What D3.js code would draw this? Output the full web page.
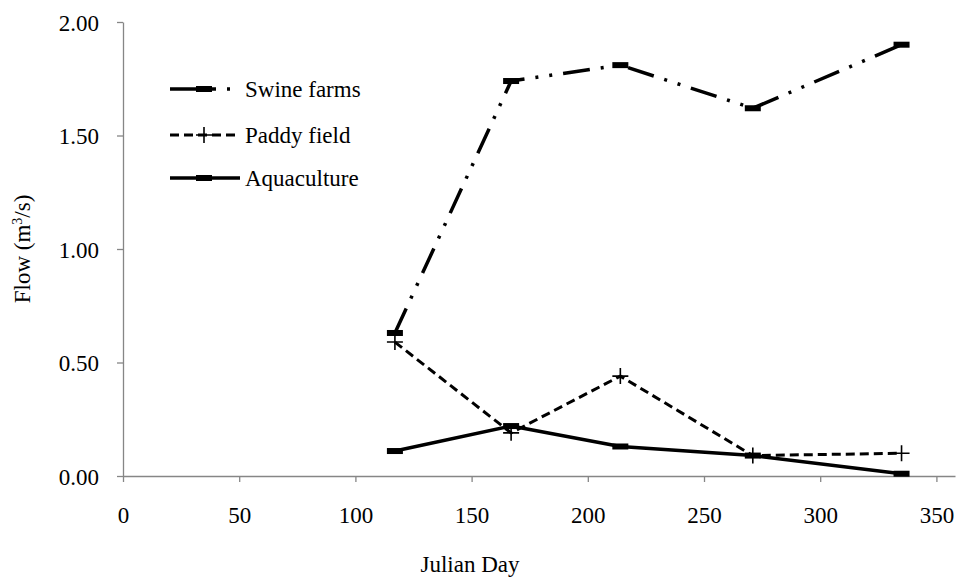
<!DOCTYPE html>
<html>
<head>
<meta charset="utf-8">
<script src="https://cdn.jsdelivr.net/npm/d3@7"></script>
<style>
  body { margin: 0; background: #fff; }
</style>
</head>
<body>
<div id="chart"></div>
<script>
// Flow by Julian day, three sources

const days = [117, 167, 214, 271, 335];
const swineFarms = [0.63, 1.74, 1.81, 1.62, 1.90];
const paddyField = [0.59, 0.19, 0.44, 0.09, 0.10];
const aquaculture = [0.11, 0.22, 0.13, 0.09, 0.01];
const xTicks = [0, 50, 100, 150, 200, 250, 300, 350];
const yTicks = [0, 0.5, 1, 1.5, 2];

const W = 958, H = 577;
const margin = { top: 22, right: 3, bottom: 101, left: 123 };
const width = W - margin.left - margin.right;
const height = H - margin.top - margin.bottom;
const FONT = "'Liberation Serif', 'DejaVu Serif', serif";
const FS = '23px';

const svg = d3.select('#chart')
    .append('svg')
    .attr('width', W)
    .attr('height', H)
    .style('font-family', FONT);

const g = svg.append('g')
    .attr('transform', `translate(${margin.left}, ${margin.top})`);

// Scales: 350 lands at ~935px, axis runs a bit past it
const xScale = d3.scaleLinear().domain([0, 358]).range([0, width]);
const yScale = d3.scaleLinear().domain([0, 2]).range([height, 0]);

const axisColor = '#868686';

// Axes
const xAxis = g.append('g')
    .attr('transform', `translate(0, ${height})`)
    .call(d3.axisBottom(xScale).tickValues(xTicks).tickSizeInner(6).tickSizeOuter(0).tickFormat(d3.format('d')));
xAxis.attr('font-family', FONT).attr('font-size', FS);
xAxis.selectAll('text').attr('dy', 0).attr('y', 47).attr('fill', '#000');

const yAxis = g.append('g')
    .call(d3.axisLeft(yScale).tickValues(yTicks).tickSizeInner(6).tickSizeOuter(0).tickFormat(d3.format('.2f')));
yAxis.attr('font-family', FONT).attr('font-size', FS);
yAxis.selectAll('text').attr('x', -24).attr('dy', '0.35em').attr('fill', '#000');

[xAxis, yAxis].forEach(a => {
    a.select('.domain').attr('stroke', axisColor).attr('stroke-width', 1.3);
    a.selectAll('.tick line').attr('stroke', axisColor).attr('stroke-width', 1.3);
});

// Axis titles
svg.append('text')
    .attr('x', 470)
    .attr('y', 572)
    .attr('text-anchor', 'middle')
    .attr('font-family', FONT).attr('font-size', FS)
    .text('Julian Day');

const yTitle = svg.append('text')
    .attr('transform', 'translate(30, 249) rotate(-90)')
    .attr('text-anchor', 'middle')
    .attr('font-family', FONT).attr('font-size', FS);
yTitle.append('tspan').text('Flow (m');
yTitle.append('tspan').attr('dy', -8).attr('font-size', '14px').text('3');
yTitle.append('tspan').attr('dy', 8).text('/s)');

// Series definitions
const series = [
    { name: 'Swine farms', values: swineFarms, dash: '27 11 3 11 3 11', width: 3.5, marker: 'bar' },
    { name: 'Paddy field', values: paddyField, dash: '9 5', width: 3, marker: 'plus' },
    { name: 'Aquaculture', values: aquaculture, dash: null, width: 3.5, marker: 'bar' }
];

const line = d3.line()
    .x(d => xScale(d[0]))
    .y(d => yScale(d[1]));

function drawMarker(sel, type, x, y) {
    if (type === 'bar') {
        sel.append('rect')
            .attr('x', x - 8)
            .attr('y', y - 3)
            .attr('width', 16)
            .attr('height', 6)
            .attr('fill', '#000');
    } else {
        sel.append('path')
            .attr('d', `M${x - 8},${y}H${x + 8}M${x},${y - 8}V${y + 8}`)
            .attr('stroke', '#000')
            .attr('stroke-width', 1.6)
            .attr('fill', 'none');
    }
}

// Draw lines and markers (aquaculture first so dashed lines sit on top)
series.slice().reverse().forEach(s => {
    const pts = days.map((d, i) => [d, s.values[i]]);
    g.append('path')
        .datum(pts)
        .attr('d', line)
        .attr('fill', 'none')
        .attr('stroke', '#000')
        .attr('stroke-width', s.width)
        .attr('stroke-dasharray', s.dash)
        .attr('stroke-linejoin', 'round');
    const mg = g.append('g');
    pts.forEach(p => drawMarker(mg, s.marker, xScale(p[0]), yScale(p[1])));
});

// Legend
const legendY = [89, 135, 178];
series.forEach((s, i) => {
    const lg = svg.append('g');
    lg.append('line')
        .attr('x1', 170).attr('x2', 240)
        .attr('y1', legendY[i]).attr('y2', legendY[i])
        .attr('stroke', '#000')
        .attr('stroke-width', s.width)
        .attr('stroke-dasharray', s.dash === '9 5' ? '9 5' : (s.dash ? '46 11 3 20' : null));
    drawMarker(lg, s.marker, 204, legendY[i]);
    lg.append('text')
        .attr('x', 245)
        .attr('y', legendY[i])
        .attr('dy', '0.35em')
        .attr('font-family', FONT).attr('font-size', FS)
        .attr('fill', '#000')
        .text(s.name);
});
</script>
</body>
</html>
